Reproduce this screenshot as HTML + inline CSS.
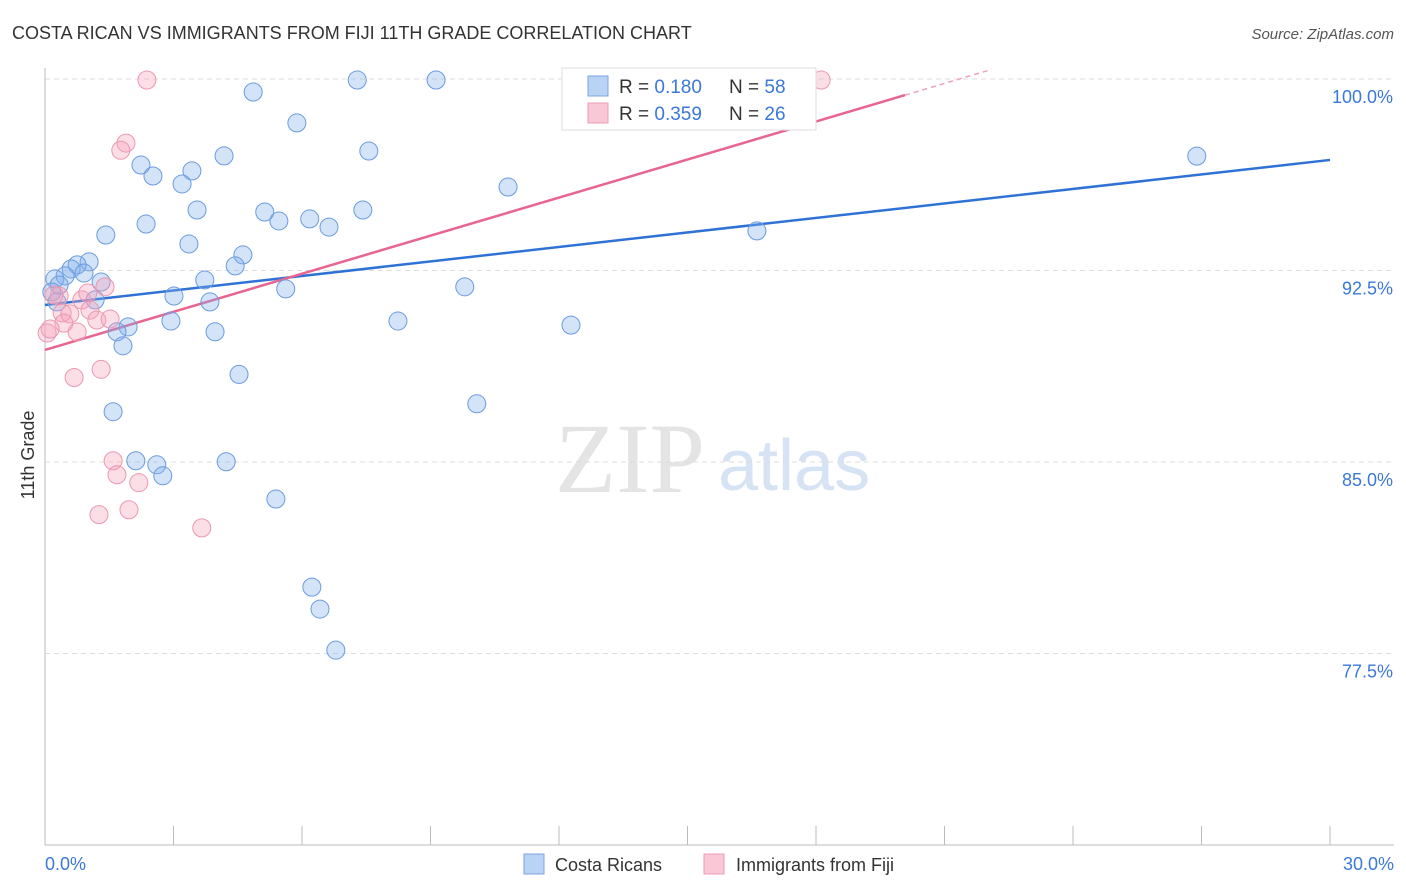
<!DOCTYPE html>
<html><head><meta charset="utf-8"><style>
body{margin:0;background:#fff;font-family:"Liberation Sans",sans-serif}
#c{position:absolute;left:0;top:0}
</style></head><body>
<svg id="c" width="1406" height="892" xmlns="http://www.w3.org/2000/svg" font-family="Liberation Sans, sans-serif">
<text x="12" y="39" font-size="18" fill="#333">COSTA RICAN VS IMMIGRANTS FROM FIJI 11TH GRADE CORRELATION CHART</text>
<text x="1394" y="39" font-size="15" fill="#555" text-anchor="end" font-style="italic">Source: ZipAtlas.com</text>
<g>
<text x="555" y="492" font-size="100" fill="#e4e4e4" font-family="Liberation Serif, serif">ZIP</text>
<text x="718" y="490" font-size="72" fill="#d6e3f5">atlas</text>
</g>
<g id="grid"></g>
<g id="axes"></g>
<g id="lines"></g>
<g id="pts"></g>
<text transform="translate(34,455) rotate(-90)" font-size="18" fill="#333" text-anchor="middle">11th Grade</text>
<text x="45" y="870" font-size="18" fill="#3b78d8">0.0%</text>
<text x="1394" y="870" font-size="18" fill="#3b78d8" text-anchor="end">30.0%</text>
<g>
<rect x="562" y="68" width="254" height="62" fill="#fff" stroke="#ddd"/>
<rect x="588" y="76" width="20" height="20" fill="#b9d3f4" stroke="#7aa6e0"/>
<rect x="588" y="103" width="20" height="20" fill="#f9c7d6" stroke="#eb9db5"/>
<text x="619" y="93" font-size="19" fill="#333">R = <tspan fill="#3b78d8">0.180</tspan><tspan x="729">N = </tspan><tspan fill="#3b78d8">58</tspan></text>
<text x="619" y="120" font-size="19" fill="#333">R = <tspan fill="#3b78d8">0.359</tspan><tspan x="729">N = </tspan><tspan fill="#3b78d8">26</tspan></text>
</g>
<g>
<rect x="524" y="854" width="20" height="20" fill="#b9d3f4" stroke="#7aa6e0"/>
<text x="555" y="871" font-size="18" fill="#333">Costa Ricans</text>
<rect x="704" y="854" width="20" height="20" fill="#f9c7d6" stroke="#eb9db5"/>
<text x="736" y="871" font-size="18" fill="#333">Immigrants from Fiji</text>
</g>
</svg>
<script>
const yTicks=[100,92.5,85,77.5];
const yTickLabels=["100.0%","92.5%","85.0%","77.5%"];
const xTicks=[0,3,6,9,12,15,18,21,24,27,30];
const blueX=[4.86,7.29,9.13,5.88,4.18,7.56,2.24,3.43,2.52,3.2,10.81,26.89,3.55,5.13,5.46,6.18,6.63,7.42,2.36,1.42,3.36,4.62,16.62,4.44,1.03,0.75,0.61,0.91,0.47,0.23,0.33,1.31,3.73,5.62,9.8,0.16,3.01,1.17,3.85,0.28,2.94,8.24,12.28,1.94,1.68,3.97,1.82,4.53,10.08,1.59,2.12,2.61,4.23,2.75,5.39,6.23,6.42,6.79];
const blueY=[99.49,99.96,99.96,98.28,96.99,97.18,96.63,96.4,96.2,95.89,95.77,96.98,94.87,94.79,94.44,94.52,94.2,94.87,94.32,93.89,93.54,93.11,94.05,92.68,92.84,92.72,92.56,92.4,92.29,92.17,91.93,92.05,92.13,91.78,91.86,91.66,91.5,91.35,91.27,91.27,90.52,90.52,90.36,90.29,90.1,90.1,89.55,88.43,87.28,86.97,85.05,84.89,85.01,84.46,83.55,80.1,79.24,77.63];
const pinkX=[2.38,18.12,1.89,1.77,0.33,0.86,1.4,1.0,0.21,0.4,0.58,1.05,1.21,1.52,0.44,0.75,0.05,0.12,1.31,0.68,1.59,1.68,2.19,1.26,1.96,3.66];
const pinkY=[99.96,99.96,97.49,97.21,91.5,91.35,91.86,91.62,91.54,90.84,90.8,90.95,90.56,90.6,90.44,90.09,90.05,90.21,88.63,88.31,85.05,84.5,84.19,82.94,83.13,82.42];
const blueTrend=[91.15,96.83]; // value at x=0 and x=30
const pinkTrend=[89.39,0.497]; // intercept, slope per %
const NS="http://www.w3.org/2000/svg";
const X=v=>45+v/30*1285, Y=v=>79+(100-v)/30*766;
function mk(tag,attrs,parent){const e=document.createElementNS(NS,tag);for(const k in attrs)e.setAttribute(k,attrs[k]);parent.appendChild(e);return e;}
const grid=document.getElementById('grid'),axes=document.getElementById('axes'),lines=document.getElementById('lines'),pts=document.getElementById('pts');
yTicks.forEach((t,i)=>{
 const l=mk('line',{x1:45,x2:1394,y1:Y(t),y2:Y(t),stroke:'#ddd','stroke-dasharray':'5,4'},grid);
 
 
 const tx=mk('text',{x:1393,y:Y(t)+24,'font-size':18,fill:'#3b78d8','text-anchor':'end'},grid);
 tx.textContent=yTickLabels[i];
 
 
});
const ya=mk('line',{x1:45,x2:45,y1:68,y2:845,stroke:'#bbb'},axes);


const xa=mk('line',{x1:45,x2:1394,y1:845,y2:845,stroke:'#bbb'},axes);


xTicks.forEach(t=>{
 const l=mk('line',{x1:X(t),x2:X(t),y1:826,y2:845,stroke:'#bbb'},axes);
 
 
});
function dots(xs,ys,fill,stroke,name){
 xs.forEach((x,i)=>{
  const c=mk('circle',{cx:X(x),cy:Y(ys[i]),r:9,fill:fill,stroke:stroke,'stroke-width':1},pts);
  
  
 });
}
dots(blueX,blueY,'rgba(130,175,235,0.35)','#6b9be0','costa-rican-point');
dots(pinkX,pinkY,'rgba(245,160,185,0.35)','#eb97b0','fiji-point');
const bl=mk('line',{x1:X(0),y1:Y(blueTrend[0]),x2:X(30),y2:Y(blueTrend[1]),stroke:'#2f72d6','stroke-width':2.5},lines);


const pl=mk('line',{x1:X(0),y1:Y(pinkTrend[0]),x2:X(20.08),y2:Y(pinkTrend[0]+pinkTrend[1]*20.08),stroke:'#e8658f','stroke-width':2.5},lines);


const pd=mk('line',{x1:X(20.08),y1:Y(pinkTrend[0]+pinkTrend[1]*20.08),x2:X(22.1),y2:Y(pinkTrend[0]+pinkTrend[1]*22.1),stroke:'#f0a0b8','stroke-width':1.5,'stroke-dasharray':'5,4'},lines);


</script>
</body></html>
